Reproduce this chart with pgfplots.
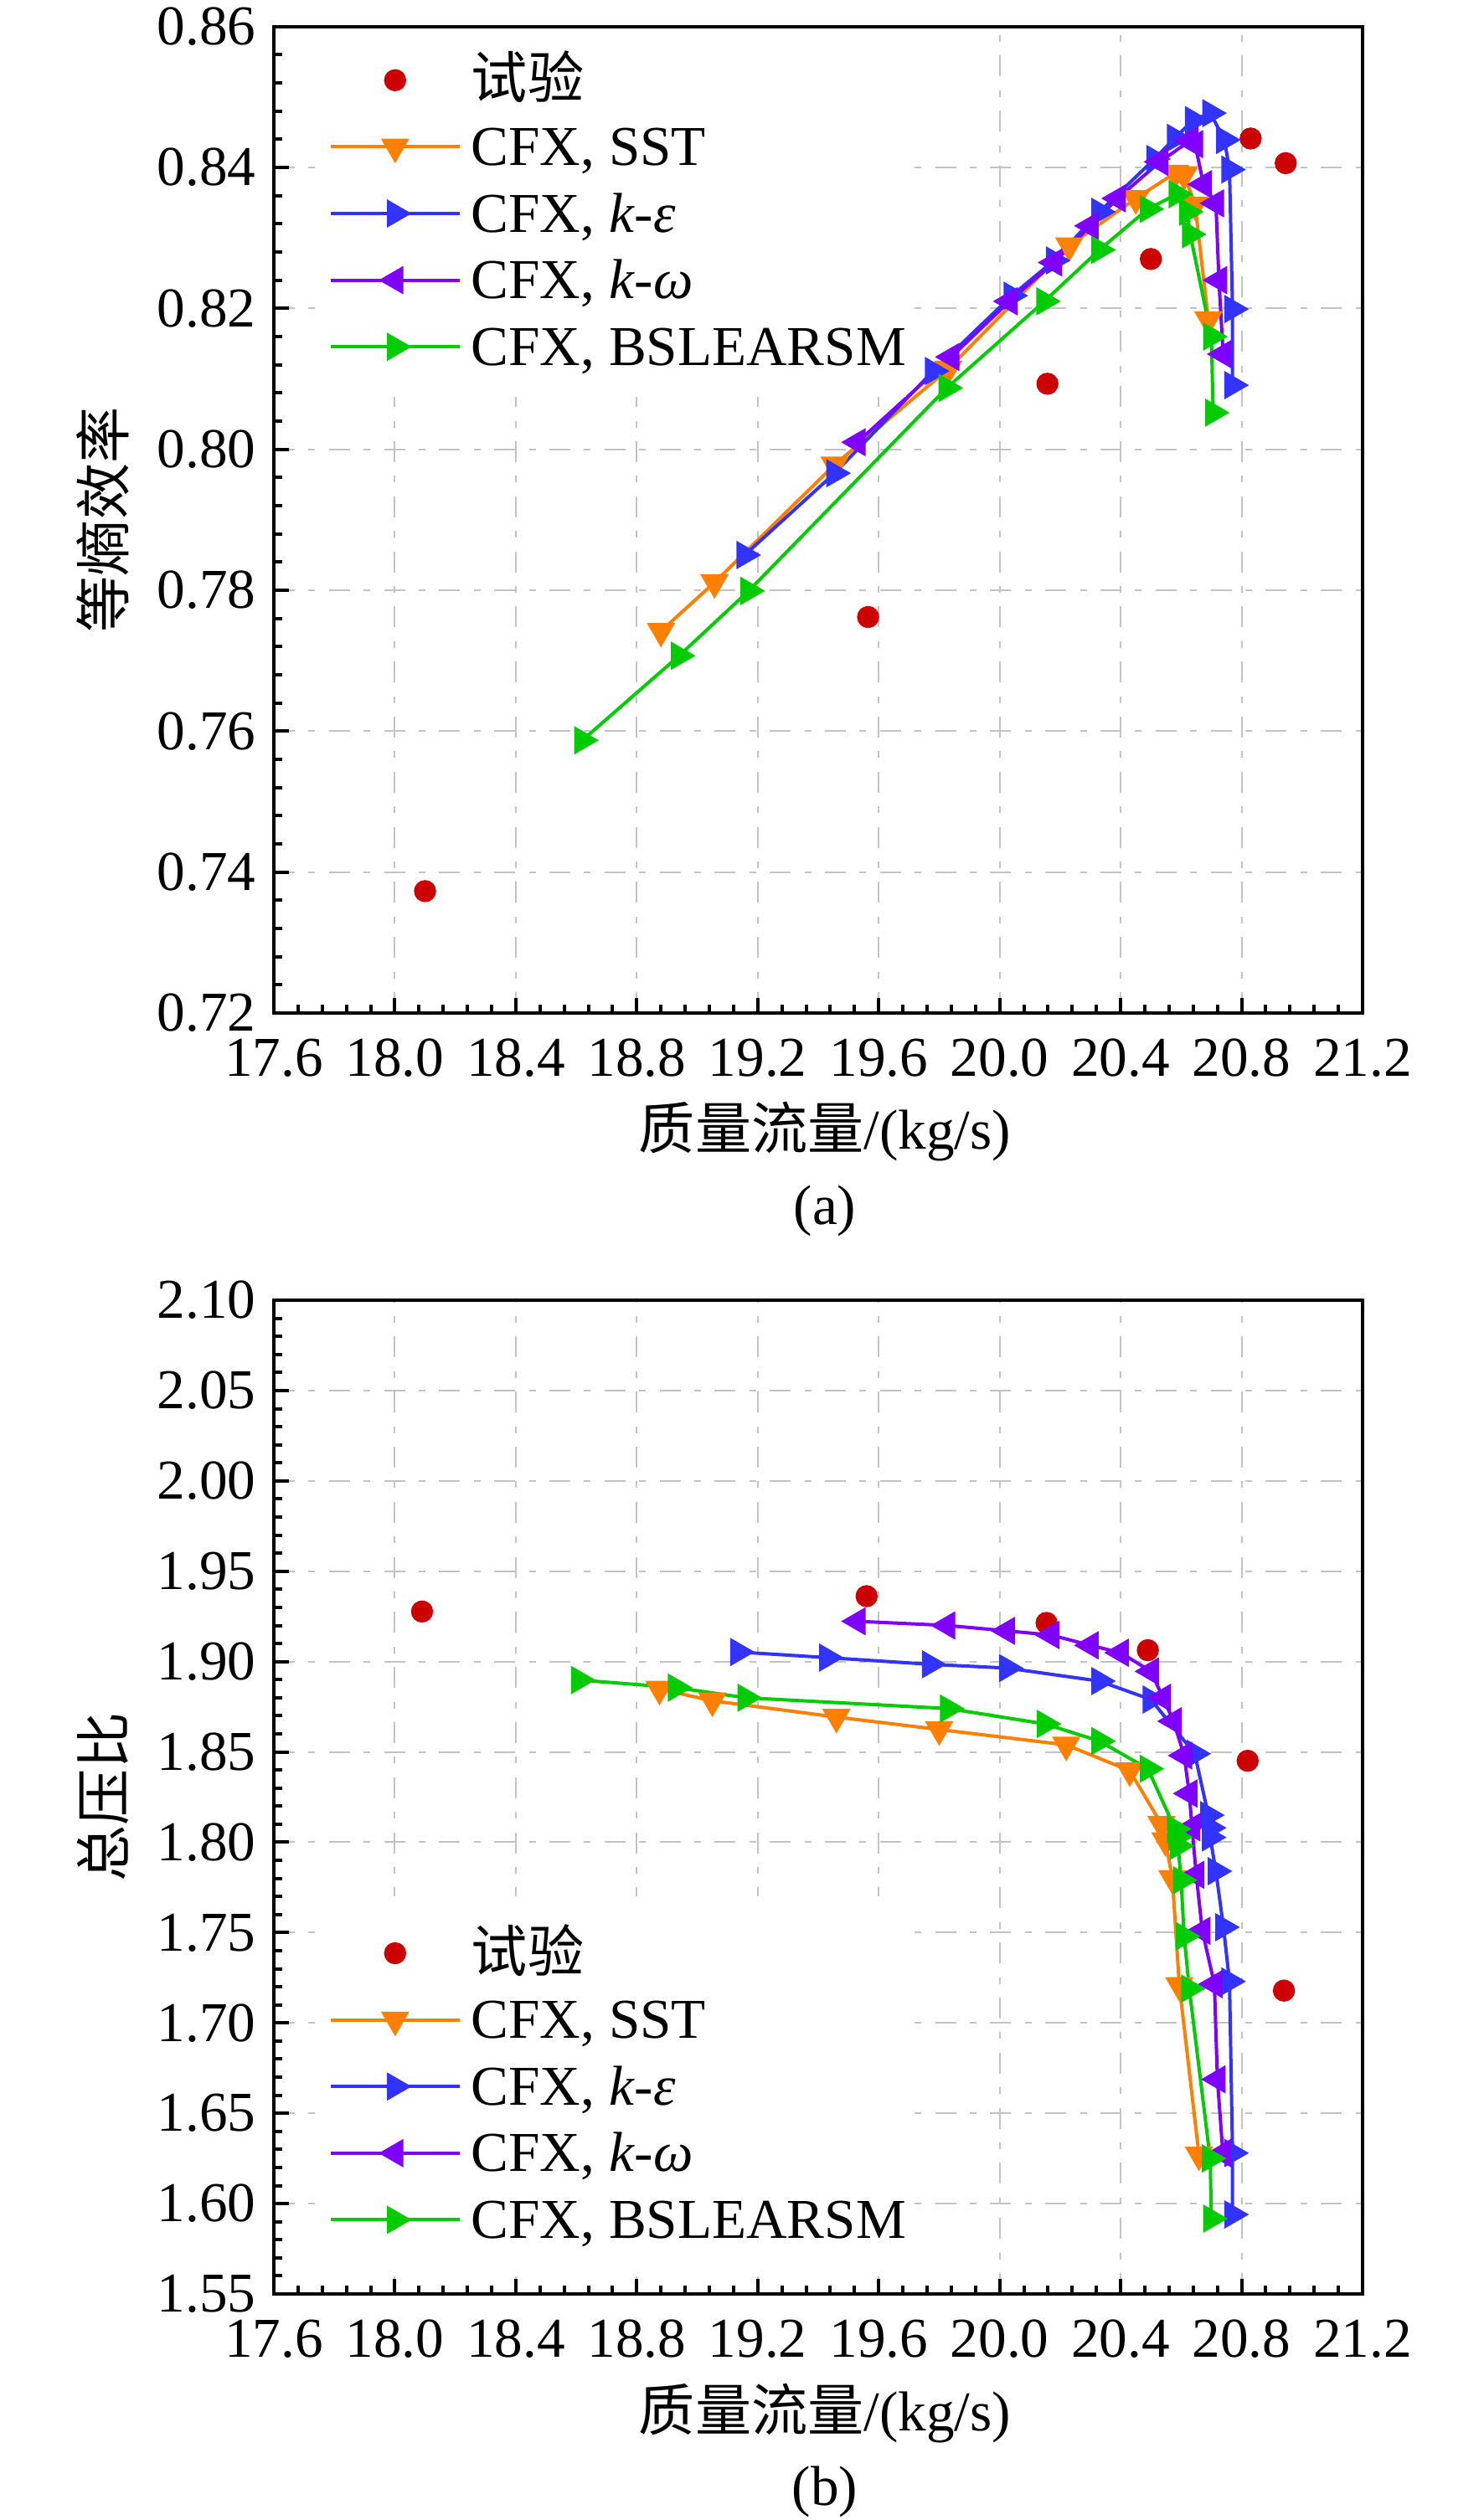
\documentclass[border=0pt]{standalone}
\usepackage{pgfplots}
\pgfplotsset{compat=1.18}
\usepackage{fontspec}
\setmainfont{Liberation Serif}
\newfontfamily\cjk{Noto Sans CJK SC}
\definecolor{cOrange}{RGB}{255,128,0}
\definecolor{cBlue}{RGB}{51,51,255}
\definecolor{cPurple}{RGB}{128,0,255}
\definecolor{cGreen}{RGB}{0,204,0}
\definecolor{cRed}{RGB}{204,0,0}
\definecolor{cGrid}{RGB}{195,195,195}
\newcommand{\fs}{\fontsize{16.8}{20}\selectfont}
\pgfplotsset{
 myaxis/.style={
  scale only axis, width=325pt,
  xmin=17.6, xmax=21.2,
  xtick={17.6,18.0,18.4,18.8,19.2,19.6,20.0,20.4,20.8,21.2},
  minor x tick num=4, minor y tick num=4,
  tick align=inside, tick pos=left,
  major tick length=4.5pt, minor tick length=2.5pt,
  every tick/.style={black, line width=1pt},
  axis line style={line width=1pt},
  grid=major,
  major grid style={cGrid, line width=0.5pt, dash pattern=on 6.25pt off 4.1pt on 2pt off 4.1pt},
  tick label style={font=\fs},
  label style={font=\fs},
  /pgf/number format/assume math mode=true,
  xticklabel style={inner sep=0pt, yshift=-7.5pt, /pgf/number format/.cd, fixed, fixed zerofill, precision=1},
  yticklabel style={inner sep=0pt, xshift=-5.25pt, /pgf/number format/.cd, fixed, fixed zerofill, precision=2},
  xlabel={{\cjk 质量流量}/(kg/s)},
  xlabel style={at={(axis description cs:0.5,0)}, anchor=center, yshift=-35.5pt, xshift=2pt},
  ylabel style={at={(axis description cs:0,0.5)}, anchor=center, yshift=51pt},
  legend cell align=left,
  legend image code/.code={\draw[mark repeat=2,mark phase=2,##1] plot coordinates {(0pt,0pt) (19.25pt,0pt) (38.5pt,0pt)};},
 },
 mylegend/.style={legend style={font=\fs, draw=none, fill=white, inner xsep=0pt, inner ysep=#1, column sep=3pt,
   nodes={inner sep=0pt, text height=15.45pt, text depth=4.45pt}}},
 exp/.style={only marks, mark=*, mark size=3.1pt, color=cRed},
 sst/.style={cOrange, line width=1pt, mark=triangle*, mark size=3.9pt, mark options={solid, rotate=180}},
 ke/.style={cBlue, line width=1pt, mark=triangle*, mark size=3.9pt, mark options={solid, rotate=-90}},
 kw/.style={cPurple, line width=1pt, mark=triangle*, mark size=3.9pt, mark options={solid, rotate=90}},
 bsl/.style={cGreen, line width=1pt, mark=triangle*, mark size=3.9pt, mark options={solid, rotate=-90}},
}
\begin{document}
\begin{tikzpicture}
\path[use as bounding box] (0,0) rectangle (443pt,-752.5pt);
% ---------------- (a) ----------------
\begin{axis}[myaxis, name=top, at={(81.75pt,-302.5pt)}, anchor=south west, height=294.6pt,
  ymin=0.72, ymax=0.86,
  ytick={0.72,0.74,0.76,0.78,0.80,0.82,0.84,0.86},
  ylabel={{\cjk 等熵效率}},
  mylegend=4.9pt,
  legend style={at={(axis description cs:0,1)}, anchor=north west, xshift=16.25pt, yshift=-1pt},
]
\addplot[exp] coordinates {(18.10,0.7373) (19.565,0.7762) (20.158,0.8093) (20.50,0.8270) (20.83,0.8441) (20.946,0.8406)};
\addlegendentry{{\cjk 试验}}
\addplot[sst] coordinates {(18.88,0.7742) (19.057,0.7811) (19.454,0.7978) (19.83,0.8114) (20.23,0.8289) (20.45,0.8356) (20.58,0.8392) (20.61,0.8390) (20.646,0.8347) (20.69,0.8184)};
\addlegendentry{CFX, SST}
\addplot[ke] coordinates {(19.157,0.7850) (19.454,0.7966) (19.78,0.8111) (20.04,0.8218) (20.18,0.8268) (20.33,0.8337) (20.512,0.8412) (20.58,0.8442) (20.64,0.8467) (20.697,0.8477) (20.743,0.8439) (20.76,0.8397) (20.77,0.8199) (20.77,0.8091)};
\addlegendentry{CFX, \textit{k}-\textit{ε}}
\addplot[kw] coordinates {(19.53,0.8010) (19.84,0.8131) (20.032,0.8210) (20.18,0.8265) (20.30,0.8317) (20.39,0.8356) (20.53,0.8408) (20.63,0.8438) (20.646,0.8433) (20.674,0.8376) (20.715,0.8349) (20.725,0.8240) (20.739,0.8135)};
\addlegendentry{CFX, \textit{k}-\textit{ω}}
\addplot[bsl] coordinates {(18.62,0.7587) (18.94,0.7707) (19.17,0.7799) (19.825,0.8087) (20.148,0.8210) (20.33,0.8283) (20.49,0.8341) (20.586,0.8362) (20.62,0.8337) (20.63,0.8305) (20.70,0.8160) (20.706,0.8052)};
\addlegendentry{CFX, BSLEARSM}
\end{axis}
\node[font=\fs, xshift=2pt, yshift=-59pt] at (top.south) {(a)};
% ---------------- (b) ----------------
\begin{axis}[myaxis, name=bot, at={(81.75pt,-685pt)}, anchor=south west, height=296.75pt,
  ymin=1.55, ymax=2.10,
  ytick={1.55,1.60,1.65,1.70,1.75,1.80,1.85,1.90,1.95,2.00,2.05,2.10},
  ylabel={{\cjk 总压比}},
  mylegend=7pt,
  legend style={at={(axis description cs:0,0)}, anchor=south west, xshift=16.25pt, yshift=5pt},
]
\addplot[exp] coordinates {(18.09,1.9277) (19.56,1.9362) (20.155,1.9214) (20.49,1.9063) (20.82,1.8451) (20.94,1.7179)};
\addlegendentry{{\cjk 试验}}
\addplot[sst] coordinates {(18.875,1.8848) (19.05,1.8783) (19.46,1.8693) (19.80,1.8624) (20.22,1.8539) (20.43,1.8396) (20.535,1.8100) (20.548,1.8010) (20.571,1.7800) (20.594,1.7208) (20.659,1.6270)};
\addlegendentry{CFX, SST}
\addplot[ke] coordinates {(19.136,1.9053) (19.43,1.9022) (19.77,1.8985) (20.025,1.8964) (20.33,1.8892) (20.50,1.8790) (20.645,1.8490) (20.69,1.8150) (20.696,1.8080) (20.696,1.8027) (20.715,1.7840) (20.74,1.7530) (20.76,1.7230) (20.77,1.6280) (20.77,1.5940)};
\addlegendentry{CFX, \textit{k}-\textit{ε}}
\addplot[kw] coordinates {(19.53,1.9223) (19.826,1.9200) (20.024,1.9170) (20.17,1.9147) (20.30,1.9090) (20.40,1.9049) (20.50,1.8946) (20.54,1.8800) (20.575,1.8670) (20.61,1.8480) (20.627,1.8270) (20.636,1.8083) (20.65,1.7820) (20.67,1.7510) (20.71,1.7215) (20.72,1.6688) (20.738,1.6280)};
\addlegendentry{CFX, \textit{k}-\textit{ω}}
\addplot[bsl] coordinates {(18.61,1.8898) (18.93,1.8856) (19.16,1.8800) (19.83,1.8740) (20.15,1.8655) (20.33,1.8560) (20.49,1.8407) (20.58,1.8074) (20.585,1.8030) (20.59,1.7980) (20.60,1.7790) (20.61,1.7480) (20.627,1.7190) (20.696,1.6250) (20.70,1.5917)};
\addlegendentry{CFX, BSLEARSM}
\end{axis}
\node[font=\fs, xshift=2pt, yshift=-59pt] at (bot.south) {(b)};
\end{tikzpicture}
\end{document}
